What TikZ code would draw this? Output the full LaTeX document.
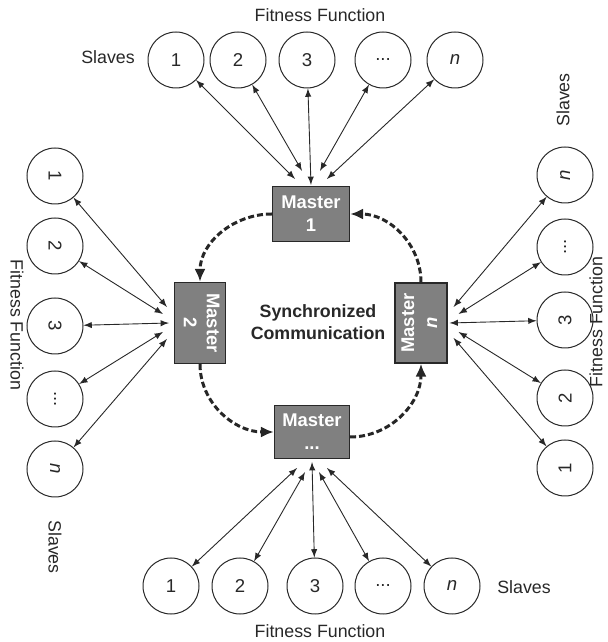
\documentclass[tikz,border=0pt]{standalone}
\usepackage{fontspec}
\setmainfont{Liberation Sans}
\usepackage{graphicx}
\usetikzlibrary{arrows,arrows.meta}
\definecolor{mastergray}{RGB}{128,128,128}
\definecolor{inkgray}{RGB}{40,40,40}
\tikzset{
  slave/.style={circle,draw=inkgray,line width=0.5pt,minimum size=28pt,inner sep=0pt,font=\fontsize{9.3}{11}\selectfont,text=inkgray},
  master/.style={rectangle,draw=inkgray,fill=mastergray,line width=0.6pt,inner sep=0pt,font=\bfseries\fontsize{9.2}{11.5}\selectfont,text=white,align=center},
  link/.style={latex-latex,line width=0.45pt,draw=inkgray},
  sync/.style={-{Latex[length=6.5pt,width=5.5pt]},line width=1.5pt,dash pattern=on 3pt off 1.5pt,draw=black!85},
  lbl/.style={font=\fontsize{8.9}{11}\selectfont,text=inkgray}
}
\begin{document}
\begin{tikzpicture}[x=0.5pt,y=0.5pt]
        \useasboundingbox (0,0) rectangle (607,642);
        %disegno master
        \node[master,minimum width=38.5pt,minimum height=27.5pt] (m1) at (311,428) {Master\\1};
        \node[master,minimum width=25.5pt,minimum height=40.5pt] (m2) at (200,319) {\rotatebox[origin=c]{-90}{\begin{tabular}{@{}c@{}}Master\\2\end{tabular}}};
        \node[master,minimum width=37.5pt,minimum height=26.5pt] (m3) at (312,210) {Master\\...};
        \node[master,minimum width=26pt,minimum height=40pt] (mn) at (421,319) {\rotatebox[origin=c]{90}{\begin{tabular}{@{}c@{}}Master\\\textit{n}\end{tabular}}};
        \node[font=\bfseries\fontsize{8.9}{11}\selectfont,text=inkgray,align=center] (sync) at (318,320) {Synchronized\\Communication};

        %disegno slaves in alto
        \node[slave] (t1) at (176,582) {1};
        \node[slave] (t2) at (238,582) {2};
        \node[slave] (t3) at (307,582) {3};
        \node[slave] (t4) at (383,582) {...};
        \node[slave] (t5) at (455,582) {\textit{n}};
        %disegno slaves in basso
        \node[slave] (b1) at (171,56) {1};
        \node[slave] (b2) at (240,56) {2};
        \node[slave] (b3) at (315,56) {3};
        \node[slave] (b4) at (383,56) {...};
        \node[slave] (b5) at (452,56) {\textit{n}};
        %disegno slaves a sinistra
        \node[slave,rotate=-90] (l1) at (55,466) {1};
        \node[slave,rotate=-90] (l2) at (55,396) {2};
        \node[slave,rotate=-90] (l3) at (55,316) {3};
        \node[slave,rotate=-90] (l4) at (55,243) {...};
        \node[slave,rotate=-90] (l5) at (55,173) {\textit{n}};
        %disegno slaves a destra
        \node[slave,rotate=90] (r5) at (565,467) {\textit{n}};
        \node[slave,rotate=90] (r4) at (565,395) {...};
        \node[slave,rotate=90] (r3) at (565,322) {3};
        \node[slave,rotate=90] (r2) at (565,244) {2};
        \node[slave,rotate=90] (r1) at (565,174) {1};

        %scritte
        \node[lbl] (ftop) at (320,627) {Fitness Function};
        \node[lbl] (stop) at (108,585) {Slaves};
        \node[lbl] (fbot) at (320,11) {Fitness Function};
        \node[lbl] (sbot) at (524,55) {Slaves};
        \node[lbl,rotate=-90] (fleft) at (17,317) {Fitness Function};
        \node[lbl,rotate=-90] (sleft) at (55,95) {Slaves};
        \node[lbl,rotate=90] (fright) at (596,320) {Fitness Function};
        \node[lbl,rotate=90] (sright) at (563,542) {Slaves};

        %collegamenti master 1
        \draw[link] (t1)--([shift={(-8pt,3.5pt)}]m1.north);
        \draw[link] (t2)--([shift={(-4.5pt,7.5pt)}]m1.north);
        \draw[link] (t3)--([shift={(0pt,0.5pt)}]m1.north);
        \draw[link] (t4)--([shift={(4.5pt,7.5pt)}]m1.north);
        \draw[link] (t5)--([shift={(8pt,3.5pt)}]m1.north);
        %collegamenti master ...
        \draw[link] (b1)--([shift={(-7.5pt,-4.5pt)}]m3.south);
        \draw[link] (b2)--([shift={(-3.5pt,-6.5pt)}]m3.south);
        \draw[link] (b3)--([shift={(0pt,-1.5pt)}]m3.south);
        \draw[link] (b4)--([shift={(3.5pt,-6.5pt)}]m3.south);
        \draw[link] (b5)--([shift={(7.5pt,-4.5pt)}]m3.south);
        %collegamenti master 2
        \draw[link] (l1)--([shift={(-3.5pt,8pt)}]m2.west);
        \draw[link] (l2)--([shift={(-5.5pt,4.5pt)}]m2.west);
        \draw[link] (l3)--([shift={(-2.5pt,0pt)}]m2.west);
        \draw[link] (l4)--([shift={(-5.5pt,-4.5pt)}]m2.west);
        \draw[link] (l5)--([shift={(-3.5pt,-8pt)}]m2.west);
        %collegamenti master n
        \draw[link] (r5)--([shift={(3pt,8pt)}]mn.east);
        \draw[link] (r4)--([shift={(5.5pt,4.5pt)}]mn.east);
        \draw[link] (r3)--([shift={(1pt,0pt)}]mn.east);
        \draw[link] (r2)--([shift={(5.5pt,-4.5pt)}]mn.east);
        \draw[link] (r1)--([shift={(3pt,-7.5pt)}]mn.east);

        %comunicazione sincronizzata
        \draw[sync] (m1.west) to [out=180, in=90] (m2.north);
        \draw[sync] (m2.south) to [out=-90, in=180] (m3.west);
        \draw[sync] ([yshift=-2.5pt]m3.east) to [out=0, in=-90] (mn.south);
        \draw[sync] (mn.north) to [out=90, in=0] (m1.east);
    \end{tikzpicture}
\end{document}
